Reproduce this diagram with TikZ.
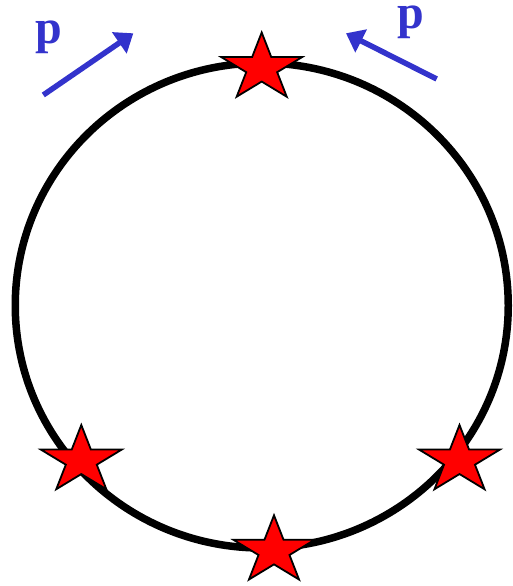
\documentclass[tikz,border=0pt]{standalone}
\usepackage{fontspec}
\setmainfont{Liberation Serif}
\usetikzlibrary{arrows.meta}
\definecolor{pblue}{RGB}{51,51,204}
\tikzset{
  ring/.style={line width=7.5pt, draw=black},
  starshape/.style={draw=black, fill=red, line width=1.8pt, line join=miter},
  momentum/.style={draw=pblue, line width=5.5pt, -{Triangle[length=17pt,width=25pt]}},
  plabel/.style={text=pblue, font=\fontsize{48}{48}\selectfont\bfseries, inner sep=0pt, anchor=base},
}
\newcommand{\mystar}[2]{%
  \begin{scope}[shift={(#1,#2)}, xscale=1.2, yscale=-1]
    \draw[starshape] (90:35.5) -- (126:13.56) -- (162:35.5) -- (198:13.56) -- (234:35.5)
      -- (270:13.56) -- (306:35.5) -- (342:13.56) -- (18:35.5) -- (54:13.56) -- cycle;
  \end{scope}}
\begin{document}
\begin{tikzpicture}[x=1pt, y=-1pt]
  \useasboundingbox (0,0) rectangle (512,586);
  \node[draw=none, inner sep=0pt, minimum size=0pt] (ring) at (261.75,305.5) {};
  \draw[ring] (ring.center) ellipse [x radius=246.5pt, y radius=242.5pt];
  \mystar{261.7}{68}
  \mystar{81.3}{460.5}
  \mystar{459.5}{460.5}
  \mystar{274}{550.8}
  \coordinate (a1) at (43.3,95);
  \coordinate (b1) at (133.3,33.3);
  \coordinate (a2) at (436.7,79);
  \coordinate (b2) at (346,33.3);
  \draw[momentum] (a1) -- (b1);
  \draw[momentum] (a2) -- (b2);
  \node[plabel] (p1) at (49,44) {p};
  \node[plabel] (p2) at (411.3,29) {p};
\end{tikzpicture}
\end{document}
